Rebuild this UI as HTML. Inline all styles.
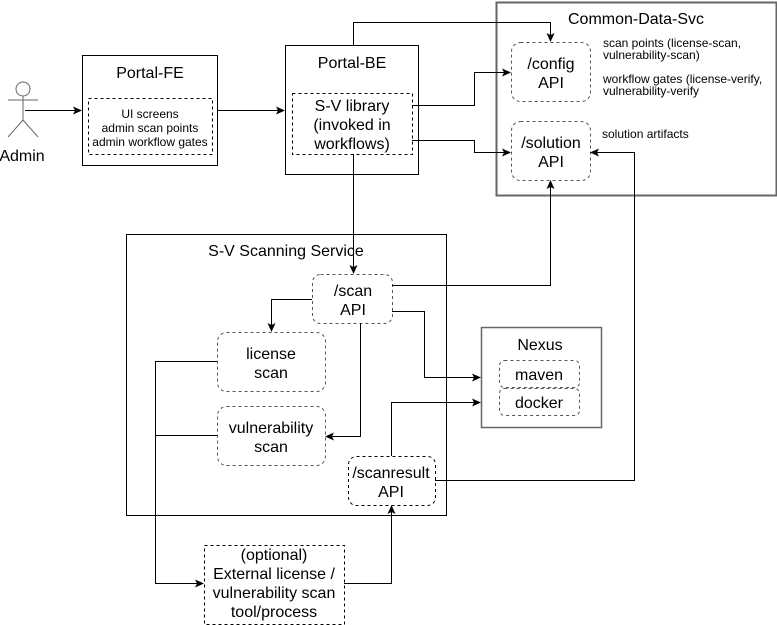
<!DOCTYPE html>
<html><head><meta charset="utf-8"><style>
html,body{margin:0;padding:0;background:#fff}
svg{display:block;font-family:"Liberation Sans",sans-serif}
</style></head><body>
<svg width="777" height="625" viewBox="0 0 777 625" xmlns="http://www.w3.org/2000/svg">
<defs><marker id="a" markerWidth="10" markerHeight="10" refX="8" refY="5" orient="auto" markerUnits="userSpaceOnUse"><path d="M0,1 L9,5 L0,9 L2,5 Z" fill="#000"/></marker></defs>
<g fill="none" stroke="#000" stroke-width="1">
<g stroke="#666"><circle cx="23" cy="89" r="7"/><path d="M23,96V120M8,100H38M23,120L8,137M23,120L38,137"/></g>
<rect x="82.5" y="55.5" width="135" height="110"/>
<rect x="88.5" y="98.5" width="124" height="56" stroke-dasharray="3,3"/>
<rect x="285.5" y="45.5" width="133" height="129"/>
<rect x="292.5" y="93.5" width="120" height="61" stroke-dasharray="3,3"/>
<rect x="496.5" y="2.5" width="280" height="193" stroke="#666" stroke-width="2"/>
<g stroke="#555" stroke-dasharray="3,3">
<rect x="511.5" y="42.5" width="79" height="59" rx="9"/>
<rect x="511.5" y="121.5" width="79" height="59" rx="9"/>
<rect x="312.5" y="274.5" width="80" height="49" rx="8"/>
<rect x="217.5" y="332.5" width="108" height="59" rx="9"/>
<rect x="217.5" y="406.5" width="108" height="59" rx="9"/>
<rect x="499.5" y="360.5" width="80" height="27" rx="5"/>
<rect x="499.5" y="388.5" width="80" height="27" rx="5"/>
</g>
<rect x="348.5" y="456.5" width="87" height="49" rx="8" stroke-dasharray="3,3"/>
<rect x="126.5" y="234.5" width="320" height="281"/>
<rect x="481.5" y="327.5" width="120" height="100" stroke="#666" stroke-width="1.5"/>
<rect x="204.5" y="545.5" width="140" height="79" stroke-dasharray="3,3"/>
<path d="M25,110.5H81" marker-end="url(#a)"/>
<path d="M217,110.5H284" marker-end="url(#a)"/>
<path d="M353.5,45V22.5H550.5V41" marker-end="url(#a)"/>
<path d="M412,105.5H474.5V72.5H510" marker-end="url(#a)"/>
<path d="M412,140.5H474.5V152.5H510" marker-end="url(#a)"/>
<path d="M353.5,154V273" marker-end="url(#a)"/>
<path d="M392,285.5H550.5V181" marker-end="url(#a)"/>
<path d="M312,299.5H271.5V331" marker-end="url(#a)"/>
<path d="M360.5,323V436.5H326" marker-end="url(#a)"/>
<path d="M392,311.5H424.5V377.5H480" marker-end="url(#a)"/>
<path d="M391.5,456V402.5H480" marker-end="url(#a)"/>
<path d="M435,480.5H634.5V152.5H591" marker-end="url(#a)"/>
<path d="M217,361.5H155.5V583.5H203" marker-end="url(#a)"/>
<path d="M217,435.5H155.5"/>
<path d="M344,583.5H391.5V506" marker-end="url(#a)"/>
</g>
<g fill="#000" text-anchor="middle" font-size="16">
<text x="22" y="161">Admin</text>
<text x="150" y="78">Portal-FE</text>
<text x="352" y="68">Portal-BE</text>
<text x="352" y="111">S-V library</text>
<text x="352" y="130">(invoked in</text>
<text x="352" y="149">workflows)</text>
<text x="636" y="24">Common-Data-Svc</text>
<text x="551" y="69">/config</text><text x="551" y="88">API</text>
<text x="551" y="148">/solution</text><text x="551" y="167">API</text>
<text x="286" y="256">S-V Scanning Service</text>
<text x="353" y="296">/scan</text><text x="353" y="315">API</text>
<text x="271" y="359">license</text><text x="271" y="378">scan</text>
<text x="271" y="433">vulnerability</text><text x="271" y="452">scan</text>
<text x="540" y="350">Nexus</text>
<text x="539" y="380">maven</text>
<text x="539" y="408">docker</text>
<text x="391" y="478">/scanresult</text><text x="391" y="497">API</text>
<text x="274" y="560">(optional)</text>
<text x="274" y="579">External license /</text>
<text x="274" y="598">vulnerability scan</text>
<text x="274" y="617">tool/process</text>
</g>
<g fill="#000" text-anchor="middle" font-size="12">
<text x="150" y="118">UI screens</text>
<text x="150" y="132">admin scan points</text>
<text x="150" y="146">admin workflow gates</text>
</g>
<g fill="#000" font-size="12">
<text x="603" y="47">scan points (license-scan,</text>
<text x="603" y="59">vulnerability-scan)</text>
<text x="603" y="83">workflow gates (license-verify,</text>
<text x="603" y="95">vulnerability-verify</text>
<text x="602" y="138">solution artifacts</text>
</g>
</svg>
</body></html>
